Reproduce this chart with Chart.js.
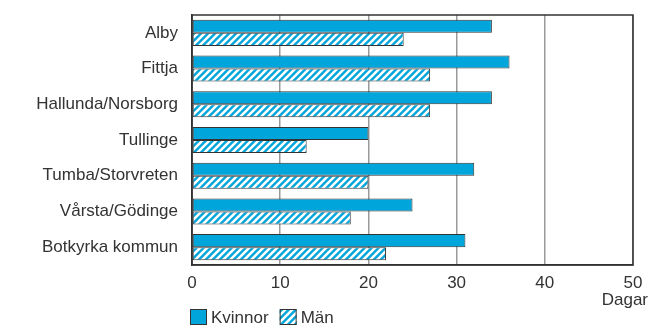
<!DOCTYPE html>
<html>
<head>
  <meta charset="utf-8">
  <script src="https://cdn.jsdelivr.net/npm/chart.js"></script>
  <style>
    html, body { margin: 0; padding: 0; background: #fff; }
    #wrap { width: 649px; height: 325px; }
  </style>
</head>
<body>
  <div id="wrap"><canvas id="chart" width="649" height="325"></canvas></div>
<script>
  // Data (days)
  var categories = ['Alby', 'Fittja', 'Hallunda/Norsborg', 'Tullinge', 'Tumba/Storvreten', 'Vårsta/Gödinge', 'Botkyrka kommun'];
  var kvinnor = [34, 36, 34, 20, 32, 25, 31];
  var man = [24, 27, 27, 13, 20, 18, 22];
  var seriesNames = ['Kvinnor', 'Män'];
  var axisTitle = 'Dagar';

  var BLUE = '#00a5db';
  var FONT = '"Liberation Sans", Arial, Helvetica, sans-serif';

  // white diagonal hatch on blue
  function makeHatch() {
    var c = document.createElement('canvas');
    c.width = 7; c.height = 7;
    var g = c.getContext('2d');
    g.fillStyle = BLUE;
    g.fillRect(0, 0, 7, 7);
    g.strokeStyle = '#fff';
    g.lineWidth = 2.6;
    g.beginPath();
    g.moveTo(-2, 9); g.lineTo(9, -2);
    g.moveTo(-9, 9); g.lineTo(2, -2);
    g.moveTo(5, 9); g.lineTo(16, -2);
    g.stroke();
    return g.createPattern(c, 'repeat');
  }
  var ctx = document.getElementById('chart').getContext('2d');
  var hatch = makeHatch();

  // frame, legend and unit label
  var extras = {
    id: 'extras',
    afterDraw: function (chart) {
      var a = chart.chartArea, g = chart.ctx;
      g.save();
      g.strokeStyle = '#333';
      g.lineWidth = 1.5;
      g.strokeRect(a.left, a.top, a.right - a.left, a.bottom - a.top);

      g.font = '17px ' + FONT;
      g.fillStyle = '#333';
      g.textBaseline = 'middle';
      g.textAlign = 'right';
      g.fillText(axisTitle, 648, 300);

      var fills = [BLUE, hatch];
      var x = 190, y = 317;
      g.textAlign = 'left';
      for (var i = 0; i < seriesNames.length; i++) {
        g.fillStyle = fills[i];
        g.fillRect(x, y - 8, 17, 16);
        g.strokeStyle = '#333';
        g.lineWidth = 1;
        g.strokeRect(x + 0.5, y - 7.5, 16, 15);
        g.fillStyle = '#333';
        g.fillText(seriesNames[i], x + 21, y + 1);
        x += 21 + g.measureText(seriesNames[i]).width + 11;
      }
      g.restore();
    }
  };

  new Chart(ctx, {
    type: 'bar',
    data: {
      labels: categories,
      datasets: [
        { label: seriesNames[0], data: kvinnor, backgroundColor: BLUE, borderColor: '#333', borderWidth: 1, borderSkipped: false },
        { label: seriesNames[1], data: man, backgroundColor: hatch, borderColor: '#333', borderWidth: 1, borderSkipped: false }
      ]
    },
    options: {
      indexAxis: 'y',
      responsive: false,
      animation: false,
      datasets: { bar: { categoryPercentage: 0.73, barPercentage: 1.0 } },
      layout: { padding: { top: 15, right: 16, left: 0, bottom: 0 } },
      plugins: {
        legend: { display: false },
        tooltip: { enabled: false }
      },
      scales: {
        x: {
          min: 0,
          max: 50,
          ticks: { stepSize: 10, color: '#333', font: { size: 17, family: FONT }, padding: 8 },
          grid: { color: '#999', lineWidth: 1.5, drawTicks: false },
          border: { display: true, color: '#333', width: 1.5 },
          afterFit: function (s) { s.height = 60; s.paddingLeft = 0; s.paddingRight = 0; }
        },
        y: {
          ticks: { color: '#333', font: { size: 17, family: FONT }, padding: 14 },
          grid: { display: false, drawTicks: false },
          border: { display: true, color: '#333', width: 1.5 },
          afterFit: function (s) { s.width = 192; s.paddingTop = 0; s.paddingBottom = 0; }
        }
      }
    },
    plugins: [extras]
  });
</script>
</body>
</html>
